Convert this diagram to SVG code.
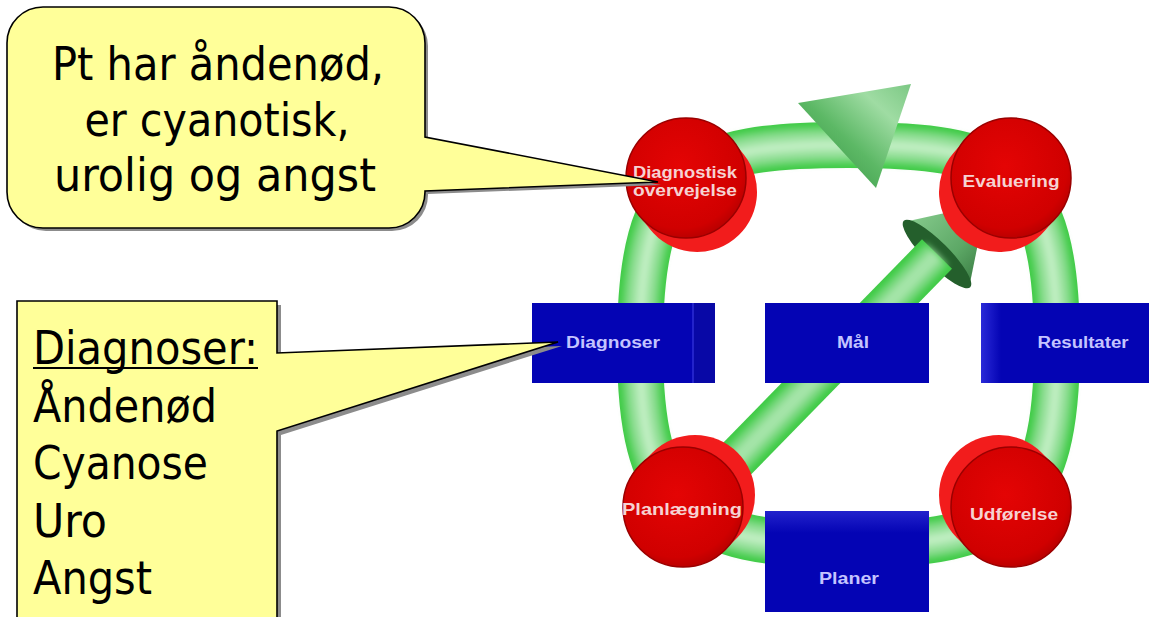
<svg xmlns="http://www.w3.org/2000/svg" width="1149" height="617" viewBox="0 0 1149 617">
<style>
.callout{fill:#ffff99;stroke:#000;stroke-width:1.6;stroke-linejoin:miter}
.shadow{fill:#8c8c8c}
.big{font-family:"DejaVu Sans Condensed","DejaVu Sans","Liberation Sans",sans-serif;font-size:46px;fill:#000}
.disc-side{stroke:#f21c1c;stroke-linecap:round;fill:none}
.disc-face{fill:url(#redFace);stroke:#9a0000;stroke-width:1.5}
.disc-txt{font-family:"Liberation Sans",Arial,sans-serif;font-weight:bold;font-size:17px;fill:#f6d2d2;text-anchor:middle}
.box{fill:#0404b4}
.box-txt{font-family:"Liberation Sans",Arial,sans-serif;font-weight:bold;font-size:16px;fill:#c4c4ff;text-anchor:middle}
.t1{fill:none;stroke:#3fcb46;stroke-width:46}
.t2{fill:none;stroke:#78d87e;stroke-width:36}
.t3{fill:none;stroke:#9fe3a3;stroke-width:22}
.t4{fill:none;stroke:#c2efc4;stroke-width:8}
</style>
<defs>
<filter id="soft" x="-10%" y="-10%" width="120%" height="120%"><feGaussianBlur stdDeviation="3"/></filter>
<radialGradient id="redFace" cx="0.45" cy="0.4" r="0.65">
<stop offset="0" stop-color="#e40404"/>
<stop offset="0.8" stop-color="#d00000"/>
<stop offset="1" stop-color="#b00000"/>
</radialGradient>
<linearGradient id="coneTop" x1="0" y1="1" x2="1" y2="0">
<stop offset="0" stop-color="#2f8a3c"/>
<stop offset="0.45" stop-color="#5cb865"/>
<stop offset="0.75" stop-color="#9fdca3"/>
<stop offset="1" stop-color="#7cc884"/>
</linearGradient>
<linearGradient id="coneDiag" x1="0" y1="0" x2="1" y2="1">
<stop offset="0" stop-color="#8fd295"/>
<stop offset="0.6" stop-color="#5da866"/>
<stop offset="1" stop-color="#2f6f38"/>
</linearGradient>
<linearGradient id="sideR" x1="0" y1="0" x2="1" y2="0">
<stop offset="0" stop-color="#2a2ad8"/>
<stop offset="1" stop-color="#0404b4"/>
</linearGradient>
<linearGradient id="topFace" x1="0" y1="0" x2="0" y2="1">
<stop offset="0" stop-color="#2222cc"/>
<stop offset="1" stop-color="#0404b4"/>
</linearGradient>
<path id="ringPath" d="M640,345 C640,166 693,145 848,145 C1004,145 1057,166 1057,345 C1057,510 1010,545 848,545 C686,545 640,510 640,345 Z"/>
</defs>
<rect width="1149" height="617" fill="#fff"/>

<g id="connectors">
<g id="ring">
<use href="#ringPath" class="t1"/>
<g filter="url(#soft)">
<use href="#ringPath" class="t2"/>
<use href="#ringPath" class="t3"/>
<use href="#ringPath" class="t4"/>
</g>
<polygon points="798,103 911,84 876,188" fill="url(#coneTop)"/>
</g>
<g id="diagonal">
<polygon points="904,222 986,204 969,288" fill="url(#coneDiag)"/>
<ellipse cx="937" cy="254" rx="47" ry="12" transform="rotate(45 937 254)" fill="#245f2c"/>
<line x1="726" y1="470" x2="937" y2="254" stroke="#3fcb46" stroke-width="42"/>
<g filter="url(#soft)">
<line x1="726" y1="470" x2="937" y2="254" stroke="#78d87e" stroke-width="30"/>
<line x1="726" y1="470" x2="937" y2="254" stroke="#a4e4a8" stroke-width="14"/>
</g>
</g>
</g>

<g id="box-diagnoser">
<rect class="box" x="532" y="303" width="183" height="80"/>
<rect x="693" y="303" width="22" height="80" fill="#0808a6"/>
<line x1="693" y1="303" x2="693" y2="383" stroke="#2c2cd4" stroke-width="1.5"/>
<text class="box-txt" x="613" y="348" textLength="94" lengthAdjust="spacingAndGlyphs">Diagnoser</text>
</g>
<g id="box-maal">
<rect class="box" x="765" y="303" width="164" height="80"/>
<text class="box-txt" x="853" y="348" textLength="32" lengthAdjust="spacingAndGlyphs">Mål</text>
</g>
<g id="box-resultater">
<rect class="box" x="981" y="303" width="168" height="80"/>
<rect x="981" y="303" width="20" height="80" fill="url(#sideR)"/>
<text class="box-txt" x="1083" y="348" textLength="91" lengthAdjust="spacingAndGlyphs">Resultater</text>
</g>
<g id="box-planer">
<rect class="box" x="765" y="511" width="164" height="101"/>
<rect x="765" y="511" width="164" height="22" fill="url(#topFace)"/>
<text class="box-txt" x="849" y="584" textLength="60" lengthAdjust="spacingAndGlyphs">Planer</text>
</g>

<g id="disc-diagnostisk">
<line class="disc-side" x1="686" y1="178" x2="697" y2="192" stroke-width="120"/>
<circle class="disc-face" cx="686" cy="178" r="60"/>
<text class="disc-txt" x="685" y="178" textLength="104" lengthAdjust="spacingAndGlyphs">Diagnostisk</text>
<text class="disc-txt" x="685" y="196" textLength="104" lengthAdjust="spacingAndGlyphs">overvejelse</text>
</g>
<g id="disc-evaluering">
<line class="disc-side" x1="1011" y1="178" x2="999" y2="192" stroke-width="120"/>
<circle class="disc-face" cx="1011" cy="178" r="60"/>
<text class="disc-txt" x="1011" y="187" textLength="97" lengthAdjust="spacingAndGlyphs">Evaluering</text>
</g>
<g id="disc-planlaegning">
<line class="disc-side" x1="683" y1="507" x2="695" y2="495" stroke-width="120"/>
<circle class="disc-face" cx="683" cy="507" r="60"/>
<text class="disc-txt" x="682" y="515" textLength="120" lengthAdjust="spacingAndGlyphs">Planlægning</text>
</g>
<g id="disc-udfoerelse">
<line class="disc-side" x1="1011" y1="507" x2="999" y2="495" stroke-width="120"/>
<circle class="disc-face" cx="1011" cy="507" r="60"/>
<text class="disc-txt" x="1014" y="520" textLength="88" lengthAdjust="spacingAndGlyphs">Udførelse</text>
</g>

<g id="callout-observation">
<path class="shadow" transform="translate(3,3)" d="M43,7 H389 A36,36 0 0 1 425,43 V137 L658,182 L425,191 V192 A36,36 0 0 1 389,228 H43 A36,36 0 0 1 7,192 V43 A36,36 0 0 1 43,7 Z"/>
<path class="callout" d="M43,7 H389 A36,36 0 0 1 425,43 V137 L658,182 L425,191 V192 A36,36 0 0 1 389,228 H43 A36,36 0 0 1 7,192 V43 A36,36 0 0 1 43,7 Z"/>
<text class="big" x="218" y="79.5" text-anchor="middle" textLength="332" lengthAdjust="spacingAndGlyphs">Pt har åndenød,</text>
<text class="big" x="217" y="136" text-anchor="middle" textLength="265" lengthAdjust="spacingAndGlyphs">er cyanotisk,</text>
<text class="big" x="215" y="191" text-anchor="middle" textLength="322" lengthAdjust="spacingAndGlyphs">urolig og angst</text>
</g>

<g id="callout-diagnoser">
<path class="shadow" transform="translate(4,4)" d="M17,301 H277 V353 L558,342 L277,431 V640 H17 Z"/>
<path class="callout" d="M17,301 H277 V353 L558,342 L277,431 V640 H17 Z"/>
<text class="big" x="33" y="364" textLength="225" lengthAdjust="spacingAndGlyphs">Diagnoser:</text>
<line x1="33" y1="368" x2="258" y2="368" stroke="#000" stroke-width="2"/>
<text class="big" x="33" y="421.5" textLength="184" lengthAdjust="spacingAndGlyphs">Åndenød</text>
<text class="big" x="33" y="479" textLength="175" lengthAdjust="spacingAndGlyphs">Cyanose</text>
<text class="big" x="33" y="536.5" textLength="74" lengthAdjust="spacingAndGlyphs">Uro</text>
<text class="big" x="33" y="594" textLength="119" lengthAdjust="spacingAndGlyphs">Angst</text>
</g>
</svg>
